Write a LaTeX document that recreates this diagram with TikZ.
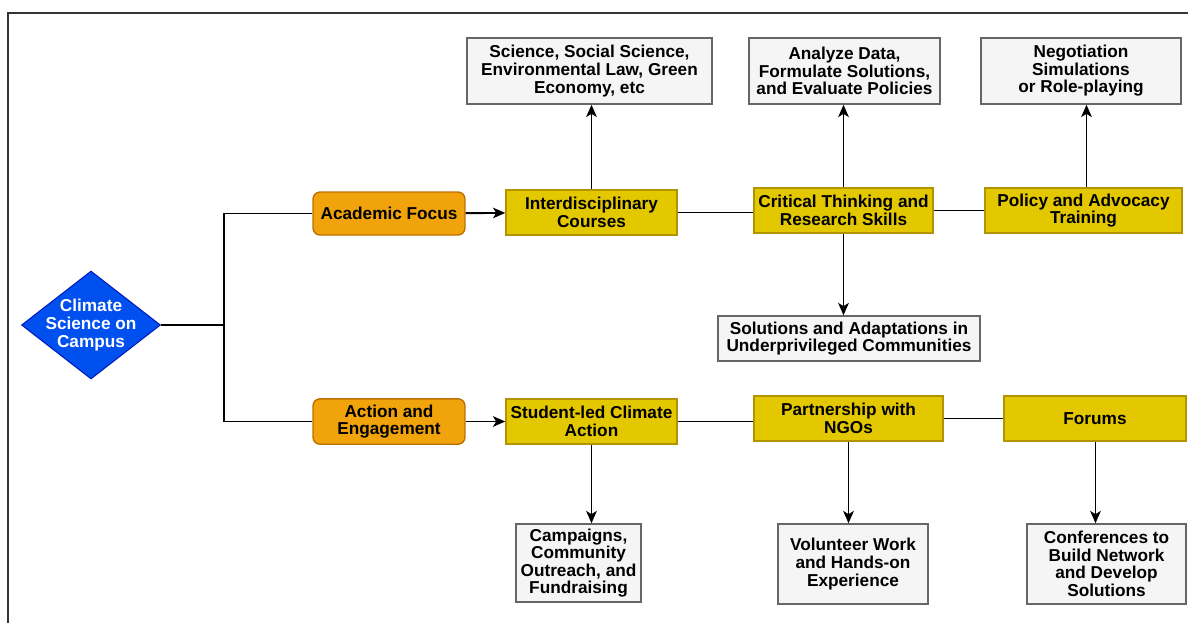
\documentclass[tikz,border=0pt]{standalone}
\usepackage{fontspec}
\setmainfont{Liberation Sans}
\usepackage{xcolor}
\usepackage{tikz}
\usetikzlibrary{arrows.meta, positioning, shapes.geometric, calc}
\definecolor{hubblue}{HTML}{0050EF}
\definecolor{hubblueline}{HTML}{001DBC}
\definecolor{branchorange}{HTML}{F0A30A}
\definecolor{branchorangeline}{HTML}{BD7000}
\definecolor{stepyellow}{HTML}{E3C800}
\definecolor{stepyellowline}{HTML}{B09500}
\definecolor{notegrey}{HTML}{F5F5F5}
\definecolor{notegreyline}{HTML}{666666}

\begin{document}
\begin{tikzpicture}[
    x=0.02cm, y=-0.02cm,
    font=\bfseries\fontsize{9.8}{10}\selectfont,
    hub/.style={diamond, draw=hubblueline, fill=hubblue, line width=0.6pt, inner sep=0pt, minimum width=2.78cm, minimum height=2.16cm},
    branch/.style={rectangle, rounded corners=4pt, draw=branchorangeline, fill=branchorange, line width=0.8pt, align=center, minimum width=3.04cm, minimum height=0.86cm},
    stepbox/.style={rectangle, draw=stepyellowline, fill=stepyellow, line width=0.8pt, align=center, minimum height=0.9cm, inner sep=1pt},
    note/.style={rectangle, draw=notegreyline, fill=notegrey, line width=0.8pt, align=center, inner sep=1pt},
    arrow/.style={-{Stealth[length=7pt, width=6pt, inset=1.8pt]}, line width=1.1pt},
    link/.style={line width=1.1pt}
]
\useasboundingbox (0,0) rectangle (1188,623);
\draw[line width=0.9pt, black!80] (8,623) -- (8,13) -- (1188,13);

\node[hub, label={[text=white, align=center]center:Climate\\Science on\\Campus}] (climate) at (91,325) {};
\coordinate (split) at (224,325);

\node[branch] (academic) at (389,213.5) {Academic Focus};
\node[branch] (action) at (389,421.5) {Action and\\Engagement};

\node[stepbox, minimum width=3.42cm] (courses) at (591.5,212.5) {Interdisciplinary\\Courses};
\node[stepbox, minimum width=3.58cm] (critical) at (843.5,210.5) {Critical Thinking and\\Research Skills};
\node[stepbox, minimum width=3.94cm] (policy) at (1083.5,210.5) {Policy and Advocacy\\Training};
\node[stepbox, minimum width=3.42cm] (studentled) at (591.5,421.5) {Student-led Climate\\Action};
\node[stepbox, minimum width=3.78cm] (ngos) at (848.5,418.5) {Partnership with\\NGOs};
\node[stepbox, minimum width=3.64cm] (forums) at (1095,418.5) {Forums};

\node[note, minimum width=4.9cm, minimum height=1.32cm] (fields) at (589.5,71) {Science, Social Science,\\Environmental Law, Green\\Economy, etc};
\node[note, minimum width=3.82cm, minimum height=1.32cm] (analyze) at (844.5,71) {Analyze Data,\\Formulate Solutions,\\and Evaluate Policies};
\node[note, minimum width=4.0cm, minimum height=1.32cm] (negotiation) at (1081,71) {Negotiation\\Simulations\\or Role-playing};
\node[note, minimum width=5.24cm, minimum height=0.9cm] (adapt) at (849,338.5) {Solutions and Adaptations in\\Underprivileged Communities};
\node[note, minimum width=2.5cm, minimum height=1.56cm] (campaigns) at (578.5,563) {Campaigns,\\Community\\Outreach, and\\Fundraising};
\node[note, minimum width=3.0cm, minimum height=1.6cm] (volunteer) at (853,564) {Volunteer Work\\and Hands-on\\Experience};
\node[note, minimum width=3.18cm, minimum height=1.6cm] (conferences) at (1106.5,564) {Conferences to\\Build Network\\and Develop\\Solutions};

\draw[link] (climate.east) -- (split) |- (academic.west);
\draw[link] (split) |- (action.west);
\draw[arrow] (academic) -- (courses);
\draw[arrow] (action) -- (studentled);
\draw[link] (courses.east) -- (courses.east -| critical.west);
\draw[link] (critical.east) -- (critical.east -| policy.west);
\draw[link] (studentled.east) -- (studentled.east -| ngos.west);
\draw[link] (ngos.east) -- (ngos.east -| forums.west);
\draw[arrow] (courses.north) -- (courses.north |- fields.south);
\draw[arrow] (critical.north) -- (critical.north |- analyze.south);
\draw[arrow] ([xshift=0.06cm]policy.north) -- ([xshift=0.06cm]policy.north |- negotiation.south);
\draw[arrow] (critical.south) -- (critical.south |- adapt.north);
\draw[arrow] (studentled.south) -- (studentled.south |- campaigns.north);
\draw[arrow] (ngos.south) -- (ngos.south |- volunteer.north);
\draw[arrow] ([xshift=0.01cm]forums.south) -- ([xshift=0.01cm]forums.south |- conferences.north);
\end{tikzpicture}
\end{document}
